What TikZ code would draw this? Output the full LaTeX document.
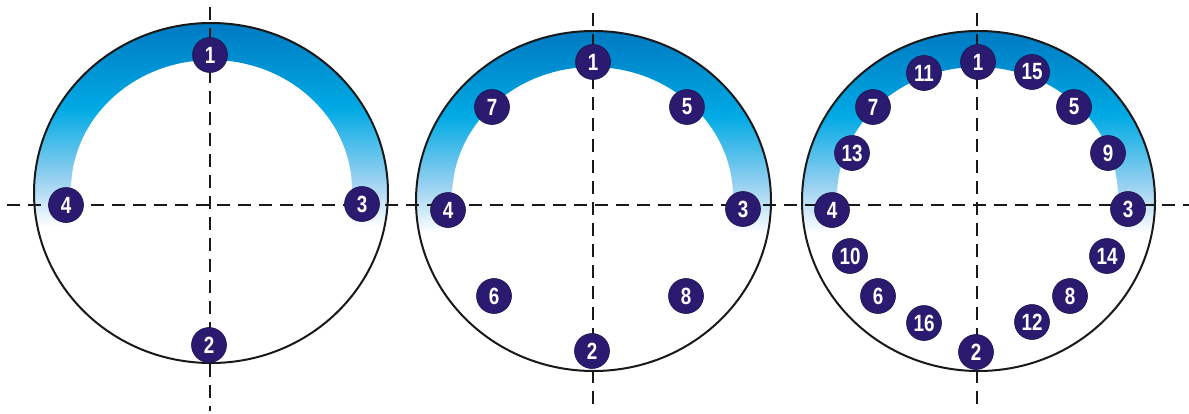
\documentclass[tikz,border=0pt]{standalone}
\usepackage{fontspec}
\usepackage{tikz}
\newfontfamily\numfont{Liberation Sans}[FakeStretch=0.8]
\definecolor{navy}{RGB}{42,26,112}
\definecolor{banddark}{RGB}{0,122,194}
\definecolor{bandmid}{RGB}{0,170,228}
\definecolor{bandlight}{RGB}{150,208,240}
\pgfdeclareverticalshading{bandfade}{100bp}{color(0bp)=(white); color(25bp)=(white); color(37bp)=(bandlight); color(54bp)=(bandmid); color(75bp)=(banddark); color(100bp)=(banddark)}

\begin{document}
\begin{tikzpicture}[x=1pt, y=-1pt, hole/.style={circle, fill=navy, draw=navy!70!black, line width=0.6pt, minimum size=35pt, inner sep=0pt, text=white, font=\numfont\bfseries\fontsize{23.5}{23.5}\selectfont}, rim/.style={line width=2pt, black!90}, axis/.style={line width=2pt, black!90, dash pattern=on 13pt off 8pt}]
	\useasboundingbox (0,0) rectangle (1189,413);
	\begin{scope}
		\clip (211,193) ellipse [x radius=177, y radius=170];
		\shade[shading=bandfade, even odd rule] (30,23) rectangle (395,227) (71,227) -- (71,190) arc [start angle=180, end angle=360, x radius=140.5, y radius=130] -- (352,227) -- cycle;
	\end{scope}
	\begin{scope}
		\clip (593.5,201) ellipse [x radius=177.5, y radius=170];
		\shade[shading=bandfade, even odd rule] (410,31) rectangle (780,233) (452,233) -- (452,197) arc [start angle=180, end angle=360, x radius=140.5, y radius=130] -- (733,233) -- cycle;
	\end{scope}
	\begin{scope}
		\clip (978.5,201) ellipse [x radius=176.5, y radius=170];
		\shade[shading=bandfade, even odd rule] (795,31) rectangle (1160,233) (837,233) -- (837,197) arc [start angle=180, end angle=360, x radius=140.5, y radius=130] -- (1118,233) -- cycle;
	\end{scope}
	\draw[rim] (211,193) ellipse [x radius=177, y radius=170];
	\draw[rim] (593.5,201) ellipse [x radius=177.5, y radius=170];
	\draw[rim] (978.5,201) ellipse [x radius=176.5, y radius=170];
	\coordinate (hl) at (7,205);
	\coordinate (hr) at (1189,205);
	\coordinate (at) at (210,7);
	\coordinate (ab) at (210,411);
	\coordinate (bt) at (593,13);
	\coordinate (bb) at (593,411);
	\coordinate (ct) at (977,13);
	\coordinate (cb) at (977,411);
	\draw[axis] (hl) -- (hr);
	\draw[axis] (at) -- (ab);
	\draw[axis] (bt) -- (bb);
	\draw[axis] (ct) -- (cb);
	\node[hole] (a1) at (210,55) {1};
	\node[hole] (a2) at (209,345) {2};
	\node[hole] (a3) at (362,204) {3};
	\node[hole] (a4) at (66,205) {4};
	\node[hole] (b1) at (593,62) {1};
	\node[hole] (b2) at (592,351) {2};
	\node[hole] (b3) at (743,209) {3};
	\node[hole] (b4) at (448,210) {4};
	\node[hole] (b5) at (687,107) {5};
	\node[hole] (b6) at (494,296) {6};
	\node[hole] (b7) at (492,107) {7};
	\node[hole] (b8) at (686,296) {8};
	\node[hole] (c1) at (978,62) {1};
	\node[hole] (c2) at (976,352) {2};
	\node[hole] (c3) at (1128,209) {3};
	\node[hole] (c4) at (832,210) {4};
	\node[hole] (c5) at (1074,107) {5};
	\node[hole] (c6) at (878,296) {6};
	\node[hole] (c7) at (873,107) {7};
	\node[hole] (c8) at (1070,296) {8};
	\node[hole] (c9) at (1108,153) {9};
	\node[hole] (c10) at (850,256) {10};
	\node[hole] (c11) at (924,73) {11};
	\node[hole] (c12) at (1032,322) {12};
	\node[hole] (c13) at (852,153) {13};
	\node[hole] (c14) at (1107,256) {14};
	\node[hole] (c15) at (1032,72) {15};
	\node[hole] (c16) at (924,323) {16};
\end{tikzpicture}
\end{document}
